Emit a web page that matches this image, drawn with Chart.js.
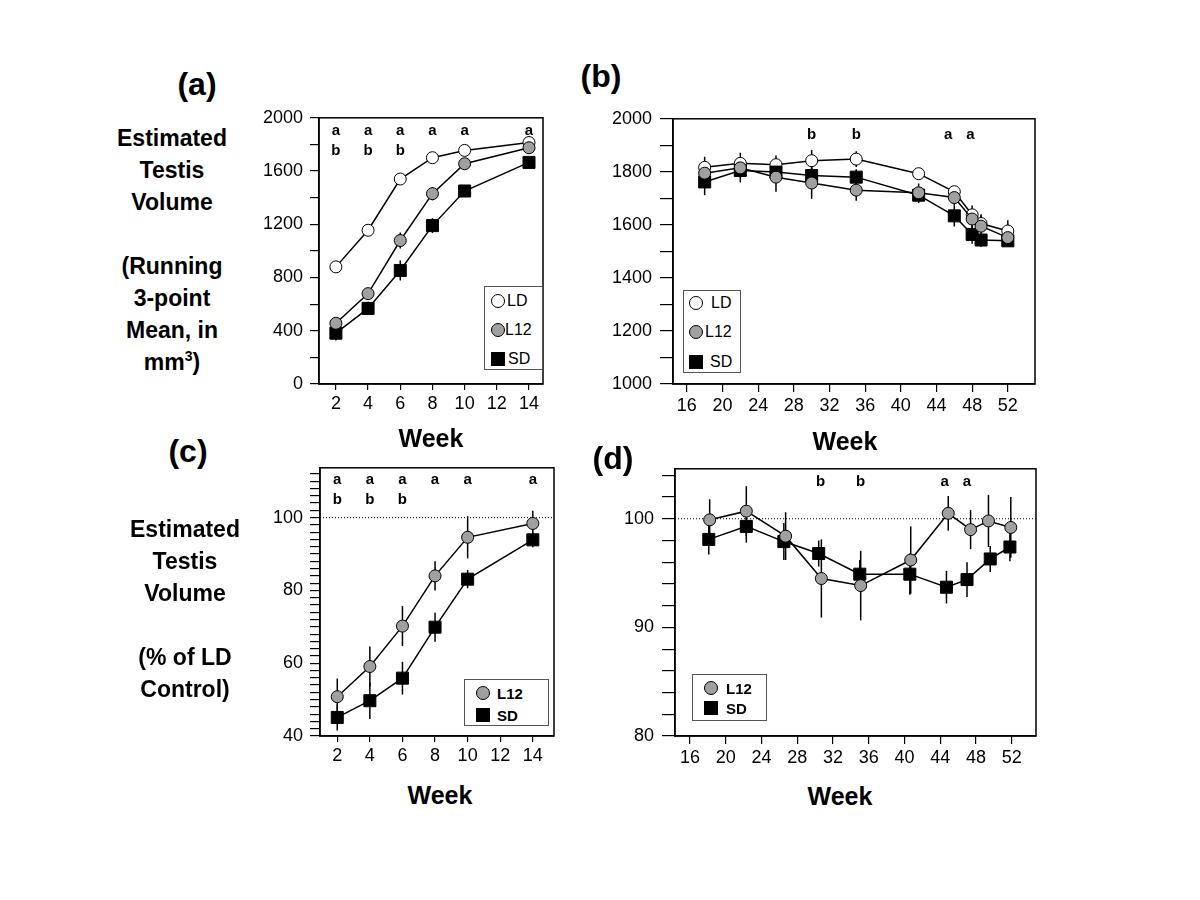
<!DOCTYPE html>
<html>
<head>
<meta charset="utf-8">
<script src="https://cdn.jsdelivr.net/npm/chart.js@4"></script>
<style>
  body { margin: 0; background: #fff; }
  #page { position: relative; width: 1200px; height: 900px; background: #fff; font-family: "Liberation Sans", Arial, sans-serif; color: #000; }
  canvas { position: absolute; }
  .t { position: absolute; transform: translate(-50%, -50%); white-space: nowrap; font-weight: bold; }
  .panel { font-size: 32px; }
  .week { font-size: 25px; }
  .ylab { position: absolute; text-align: center; font-weight: bold; font-size: 23px; line-height: 32px; transform: translateX(-50%); white-space: nowrap; }
  .ylab sup { font-size: 14px; line-height: 0; }
  .legend { position: absolute; border: 1.5px solid #555; box-sizing: border-box; background: #fff; }
  .row { position: absolute; left: 0; height: 20px; transform: translateY(-50%); }
  .mk { position: absolute; top: 50%; transform: translate(-50%, -50%); box-sizing: border-box; border: 1px solid #000; }
  .circ { width: 14px; height: 14px; border-radius: 50%; }
  .sq { width: 14px; height: 14px; background: #000; }
  .lt { position: absolute; top: 50%; transform: translateY(-50%); font-size: 16px; }
  .lb { font-size: 15px; font-weight: bold; }
</style>
</head>
<body>
<div id="page">
  <canvas id="chartA" width="320" height="320" style="left:240px;top:100px"></canvas>
  <canvas id="chartB" width="460" height="320" style="left:590px;top:100px"></canvas>
  <canvas id="chartC" width="330" height="320" style="left:240px;top:450px"></canvas>
  <canvas id="chartD" width="460" height="320" style="left:590px;top:450px"></canvas>

  <div class="t panel" style="left:197px;top:84px">(a)</div>
  <div class="t panel" style="left:601px;top:76px">(b)</div>
  <div class="t panel" style="left:188px;top:451px">(c)</div>
  <div class="t panel" style="left:613px;top:458px">(d)</div>

  <div class="ylab" style="left:172px;top:122px">Estimated<br>Testis<br>Volume<br>&nbsp;<br>(Running<br>3-point<br>Mean, in<br>mm<sup>3</sup>)</div>
  <div class="ylab" style="left:185px;top:513px">Estimated<br>Testis<br>Volume<br>&nbsp;<br>(% of LD<br>Control)</div>

  <div class="t week" style="left:431px;top:438px">Week</div>
  <div class="t week" style="left:845px;top:441px">Week</div>
  <div class="t week" style="left:440px;top:795px">Week</div>
  <div class="t week" style="left:840px;top:796px">Week</div>

  <div class="legend" style="left:484px;top:286px;width:59px;height:84px">
    <div class="row" style="top:14px"><div class="mk circ" style="left:13px;background:#fff"></div><div class="lt" style="left:22px">LD</div></div>
    <div class="row" style="top:43px"><div class="mk circ" style="left:13px;background:#a0a0a0"></div><div class="lt" style="left:20px">L12</div></div>
    <div class="row" style="top:72px"><div class="mk sq" style="left:13px"></div><div class="lt" style="left:23px">SD</div></div>
  </div>
  <div class="legend" style="left:683px;top:290px;width:58px;height:83px">
    <div class="row" style="top:12px"><div class="mk circ" style="left:12px;background:#fff"></div><div class="lt" style="left:27px">LD</div></div>
    <div class="row" style="top:41px"><div class="mk circ" style="left:12px;background:#a0a0a0"></div><div class="lt" style="left:21px">L12</div></div>
    <div class="row" style="top:71px"><div class="mk sq" style="left:12px"></div><div class="lt" style="left:26px">SD</div></div>
  </div>
  <div class="legend" style="left:464px;top:679px;width:85px;height:47px">
    <div class="row" style="top:13px"><div class="mk circ" style="left:18px;background:#a0a0a0"></div><div class="lt lb" style="left:32px">L12</div></div>
    <div class="row" style="top:35px"><div class="mk sq" style="left:18px"></div><div class="lt lb" style="left:32px">SD</div></div>
  </div>
  <div class="legend" style="left:692px;top:674px;width:75px;height:47px">
    <div class="row" style="top:13px"><div class="mk circ" style="left:18px;background:#a0a0a0"></div><div class="lt lb" style="left:33px">L12</div></div>
    <div class="row" style="top:33px"><div class="mk sq" style="left:18px"></div><div class="lt lb" style="left:33px">SD</div></div>
  </div>
</div>

<script>
// (a) weeks 2-14, mm3
var weeksA = [2, 4, 6, 8, 10, 14];
var ldA = [880, 1155, 1540, 1700, 1755, 1814];
var l12A = [456, 679, 1078, 1430, 1655, 1775];
var sdA = [382, 568, 853, 1190, 1450, 1665];
var ldErrA = [25, 30, 40, 30, 25, 20];
var l12ErrA = [30, 40, 60, 50, 30, 25];
var sdErrA = [55, 50, 75, 55, 40, 25];

// (b) weeks 18-52, mm3
var weeksB = [18, 22, 26, 30, 35, 42, 46, 48, 49, 52];
var ldB = [1817, 1832, 1827, 1842, 1848, 1793, 1725, 1638, 1605, 1577];
var l12B = [1795, 1815, 1780, 1758, 1731, 1721, 1703, 1622, 1595, 1552];
var sdB = [1762, 1805, 1799, 1786, 1780, 1712, 1634, 1564, 1543, 1540];
var ldErrB = [40, 40, 35, 40, 30, 20, 20, 35, 30, 40];
var l12ErrB = [30, 30, 55, 60, 40, 35, 30, 40, 45, 30];
var sdErrB = [50, 45, 35, 30, 30, 30, 40, 35, 25, 20];

// (c) % of LD control, weeks 2-14
var weeksC = [2, 4, 6, 8, 10, 14];
var l12C = [50.8, 59.1, 70.2, 84.0, 94.6, 98.4];
var sdC = [45.1, 49.7, 55.9, 69.9, 83.1, 93.9];
var l12ErrC = [5, 5.5, 5.5, 4, 5.8, 3.5];
var sdErrC = [3.6, 5, 4.5, 4, 2.5, 2];

// (d) % of LD control, weeks 18-52
var weeksL12D = [18.2, 22.3, 26.7, 30.7, 35.1, 40.7, 44.9, 47.4, 49.4, 51.9];
var l12D = [99.9, 100.7, 98.4, 94.5, 93.85, 96.2, 100.5, 99.0, 99.8, 99.2];
var l12ErrD = [1.9, 2.3, 2.2, 3.6, 3.2, 3.1, 1.6, 1.8, 2.4, 2.8];
var weeksSDD = [18.1, 22.3, 26.5, 30.4, 35, 40.6, 44.7, 47, 49.6, 51.8];
var sdD = [98.1, 99.3, 97.9, 96.8, 94.9, 94.9, 93.7, 94.4, 96.3, 97.4];
var sdErrD = [1.4, 1.5, 1.7, 1.2, 1.3, 1.9, 1.5, 1.6, 1.2, 1.3];

// significance letters
var sigWeeksAC = [2, 4, 6, 8, 10, 14];
var sigRow1AC = ["a", "a", "a", "a", "a", "a"];
var sigRow2AC = ["b", "b", "b", "", "", ""];
var sigWeeksB = [30, 35, 45.3, 47.8];
var sigLettersB = ["b", "b", "a", "a"];
var sigWeeksD = [30.6, 35.1, 44.5, 47];
var sigLettersD = ["b", "b", "a", "a"];

// tick values
var xTicksA = [2, 4, 6, 8, 10, 12, 14];
var xTicksB = [16, 20, 24, 28, 32, 36, 40, 44, 48, 52];
var yTicksA = [0, 200, 400, 600, 800, 1000, 1200, 1400, 1600, 1800, 2000];
var yLabelsA = [0, 400, 800, 1200, 1600, 2000];
var yTicksB = [1000, 1100, 1200, 1300, 1400, 1500, 1600, 1700, 1800, 1900, 2000];
var yLabelsB = [1000, 1200, 1400, 1600, 1800, 2000];
var yTicksC = [];
for (var v = 40; v <= 112; v += 2) yTicksC.push(v);
var yLabelsC = [40, 60, 80, 100];
var yTicksD = [];
for (var v = 80; v <= 104; v += 2) yTicksD.push(v);
var yLabelsD = [80, 90, 100];

Chart.defaults.font.family = '"Liberation Sans", Arial, sans-serif';
Chart.defaults.color = "#000";

function pts(xs, ys) {
  return xs.map(function (x, i) { return { x: x, y: ys[i] }; });
}

function series(label, xs, ys, errs, kind, order) {
  var isSq = kind === "sd";
  return {
    label: label,
    data: pts(xs, ys),
    errors: errs,
    order: order,
    borderColor: "#000",
    borderWidth: 1.5,
    tension: 0,
    pointStyle: isSq ? "rect" : "circle",
    pointRadius: isSq ? 8.5 : 6,
    pointBorderWidth: 1,
    pointBorderColor: "#000",
    pointBackgroundColor: kind === "ld" ? "#fff" : (kind === "l12" ? "#a0a0a0" : "#000")
  };
}

var errorBars = {
  id: "errorBars",
  beforeDatasetsDraw: function (chart) {
    var ctx = chart.ctx, y = chart.scales.y;
    ctx.save();
    ctx.strokeStyle = "#000";
    ctx.lineWidth = 1.5;
    chart.data.datasets.forEach(function (ds, i) {
      if (!ds.errors) return;
      chart.getDatasetMeta(i).data.forEach(function (p, j) {
        var val = ds.data[j].y, e = ds.errors[j];
        ctx.beginPath();
        ctx.moveTo(p.x, y.getPixelForValue(val - e));
        ctx.lineTo(p.x, y.getPixelForValue(val + e));
        ctx.stroke();
      });
    });
    ctx.restore();
  }
};

var frame = {
  id: "frame",
  beforeDatasetsDraw: function (chart, args, opts) {
    var ctx = chart.ctx, a = chart.chartArea;
    ctx.save();
    if (opts.ref != null) {
      var py = chart.scales.y.getPixelForValue(opts.ref);
      ctx.strokeStyle = "#000";
      ctx.lineWidth = 1;
      ctx.setLineDash([1, 2]);
      ctx.beginPath();
      ctx.moveTo(a.left, py);
      ctx.lineTo(a.right, py);
      ctx.stroke();
      ctx.setLineDash([]);
    }
    ctx.strokeStyle = "#000";
    ctx.lineWidth = 1.5;
    ctx.strokeRect(a.left, a.top, a.right - a.left, a.bottom - a.top);
    ctx.restore();
  },
  afterDatasetsDraw: function (chart, args, opts) {
    var ctx = chart.ctx, a = chart.chartArea, x = chart.scales.x;
    ctx.save();
    ctx.font = "bold 15px 'Liberation Sans', Arial, sans-serif";
    ctx.fillStyle = "#000";
    ctx.textAlign = "center";
    ctx.textBaseline = "middle";
    (opts.rows || []).forEach(function (r) {
      r.weeks.forEach(function (w, i) {
        ctx.fillText(r.letters[i], x.getPixelForValue(w), a.top + r.dy);
      });
    });
    ctx.restore();
  }
};

function makeChart(id, o) {
  return new Chart(document.getElementById(id), {
    type: "line",
    data: { datasets: o.datasets },
    options: {
      responsive: false,
      animation: false,
      layout: { padding: { top: o.padTop, right: o.padRight, left: 0, bottom: 0 } },
      plugins: {
        legend: { display: false },
        tooltip: { enabled: false },
        frame: { ref: o.ref, rows: o.rows }
      },
      scales: {
        x: {
          type: "linear",
          min: o.xMin,
          max: o.xMax,
          afterFit: function (s) { s.height = o.xH; },
          afterBuildTicks: function (ax) { ax.ticks = o.xTicks.map(function (v) { return { value: v }; }); },
          ticks: { font: { size: 18 }, color: "#000", padding: 3, autoSkip: false, maxRotation: 0,
                   callback: function (v) { return String(v); } },
          grid: { drawOnChartArea: false, tickLength: o.xTickLen, color: "#000", lineWidth: 1.2 },
          border: { color: "#000", width: 1.5 }
        },
        y: {
          min: o.yMin,
          max: o.yMax,
          afterFit: function (s) { s.width = o.yW; },
          afterBuildTicks: function (ax) { ax.ticks = o.yTicks.map(function (v) { return { value: v }; }); },
          ticks: { font: { size: 18 }, color: "#000", padding: o.yPad, autoSkip: false,
                   callback: function (v) { return o.yLabels.indexOf(v) >= 0 ? String(v) : ""; } },
          grid: { drawOnChartArea: false, tickLength: o.yTickLen, color: "#000", lineWidth: 1.2 },
          border: { color: "#000", width: 1.5 }
        }
      }
    },
    plugins: [errorBars, frame]
  });
}

makeChart("chartA", {
  datasets: [
    series("L12", weeksA, l12A, l12ErrA, "l12", 0),
    series("SD", weeksA, sdA, sdErrA, "sd", 1),
    series("LD", weeksA, ldA, ldErrA, "ld", 2)
  ],
  padTop: 15, padRight: 17, xH: 36, yW: 79,
  xMin: 0.95, xMax: 14.87, yMin: 0, yMax: 2000,
  xTicks: xTicksA, yTicks: yTicksA, yLabels: yLabelsA,
  xTickLen: 6, yTickLen: 9, yPad: 7,
  rows: [{ weeks: sigWeeksAC, letters: sigRow1AC, dy: 13 }, { weeks: sigWeeksAC, letters: sigRow2AC, dy: 33 }]
});

makeChart("chartB", {
  datasets: [
    series("L12", weeksB, l12B, l12ErrB, "l12", 0),
    series("SD", weeksB, sdB, sdErrB, "sd", 1),
    series("LD", weeksB, ldB, ldErrB, "ld", 2)
  ],
  padTop: 14, padRight: 15, xH: 36, yW: 83,
  xMin: 14.45, xMax: 55.05, yMin: 1000, yMax: 2000,
  xTicks: xTicksB, yTicks: yTicksB, yLabels: yLabelsB,
  xTickLen: 8, yTickLen: 13, yPad: 8,
  rows: [{ weeks: sigWeeksB, letters: sigLettersB, dy: 16 }]
});

makeChart("chartC", {
  datasets: [
    series("L12", weeksC, l12C, l12ErrC, "l12", 0),
    series("SD", weeksC, sdC, sdErrC, "sd", 1)
  ],
  padTop: 17, padRight: 16, xH: 34, yW: 80,
  xMin: 0.94, xMax: 15.3, yMin: 40, yMax: 113.7,
  xTicks: xTicksA, yTicks: yTicksC, yLabels: yLabelsC,
  xTickLen: 6, yTickLen: 10, yPad: 7, ref: 100,
  rows: [{ weeks: sigWeeksAC, letters: sigRow1AC, dy: 12 }, { weeks: sigWeeksAC, letters: sigRow2AC, dy: 32 }]
});

makeChart("chartD", {
  datasets: [
    series("L12", weeksL12D, l12D, l12ErrD, "l12", 0),
    series("SD", weeksSDD, sdD, sdErrD, "sd", 1)
  ],
  padTop: 17, padRight: 14, xH: 34, yW: 85,
  xMin: 14.32, xMax: 54.72, yMin: 80, yMax: 104.6,
  xTicks: xTicksB, yTicks: yTicksD, yLabels: yLabelsD,
  xTickLen: 8, yTickLen: 13, yPad: 8, ref: 100,
  rows: [{ weeks: sigWeeksD, letters: sigLettersD, dy: 13 }]
});
</script>
</body>
</html>
